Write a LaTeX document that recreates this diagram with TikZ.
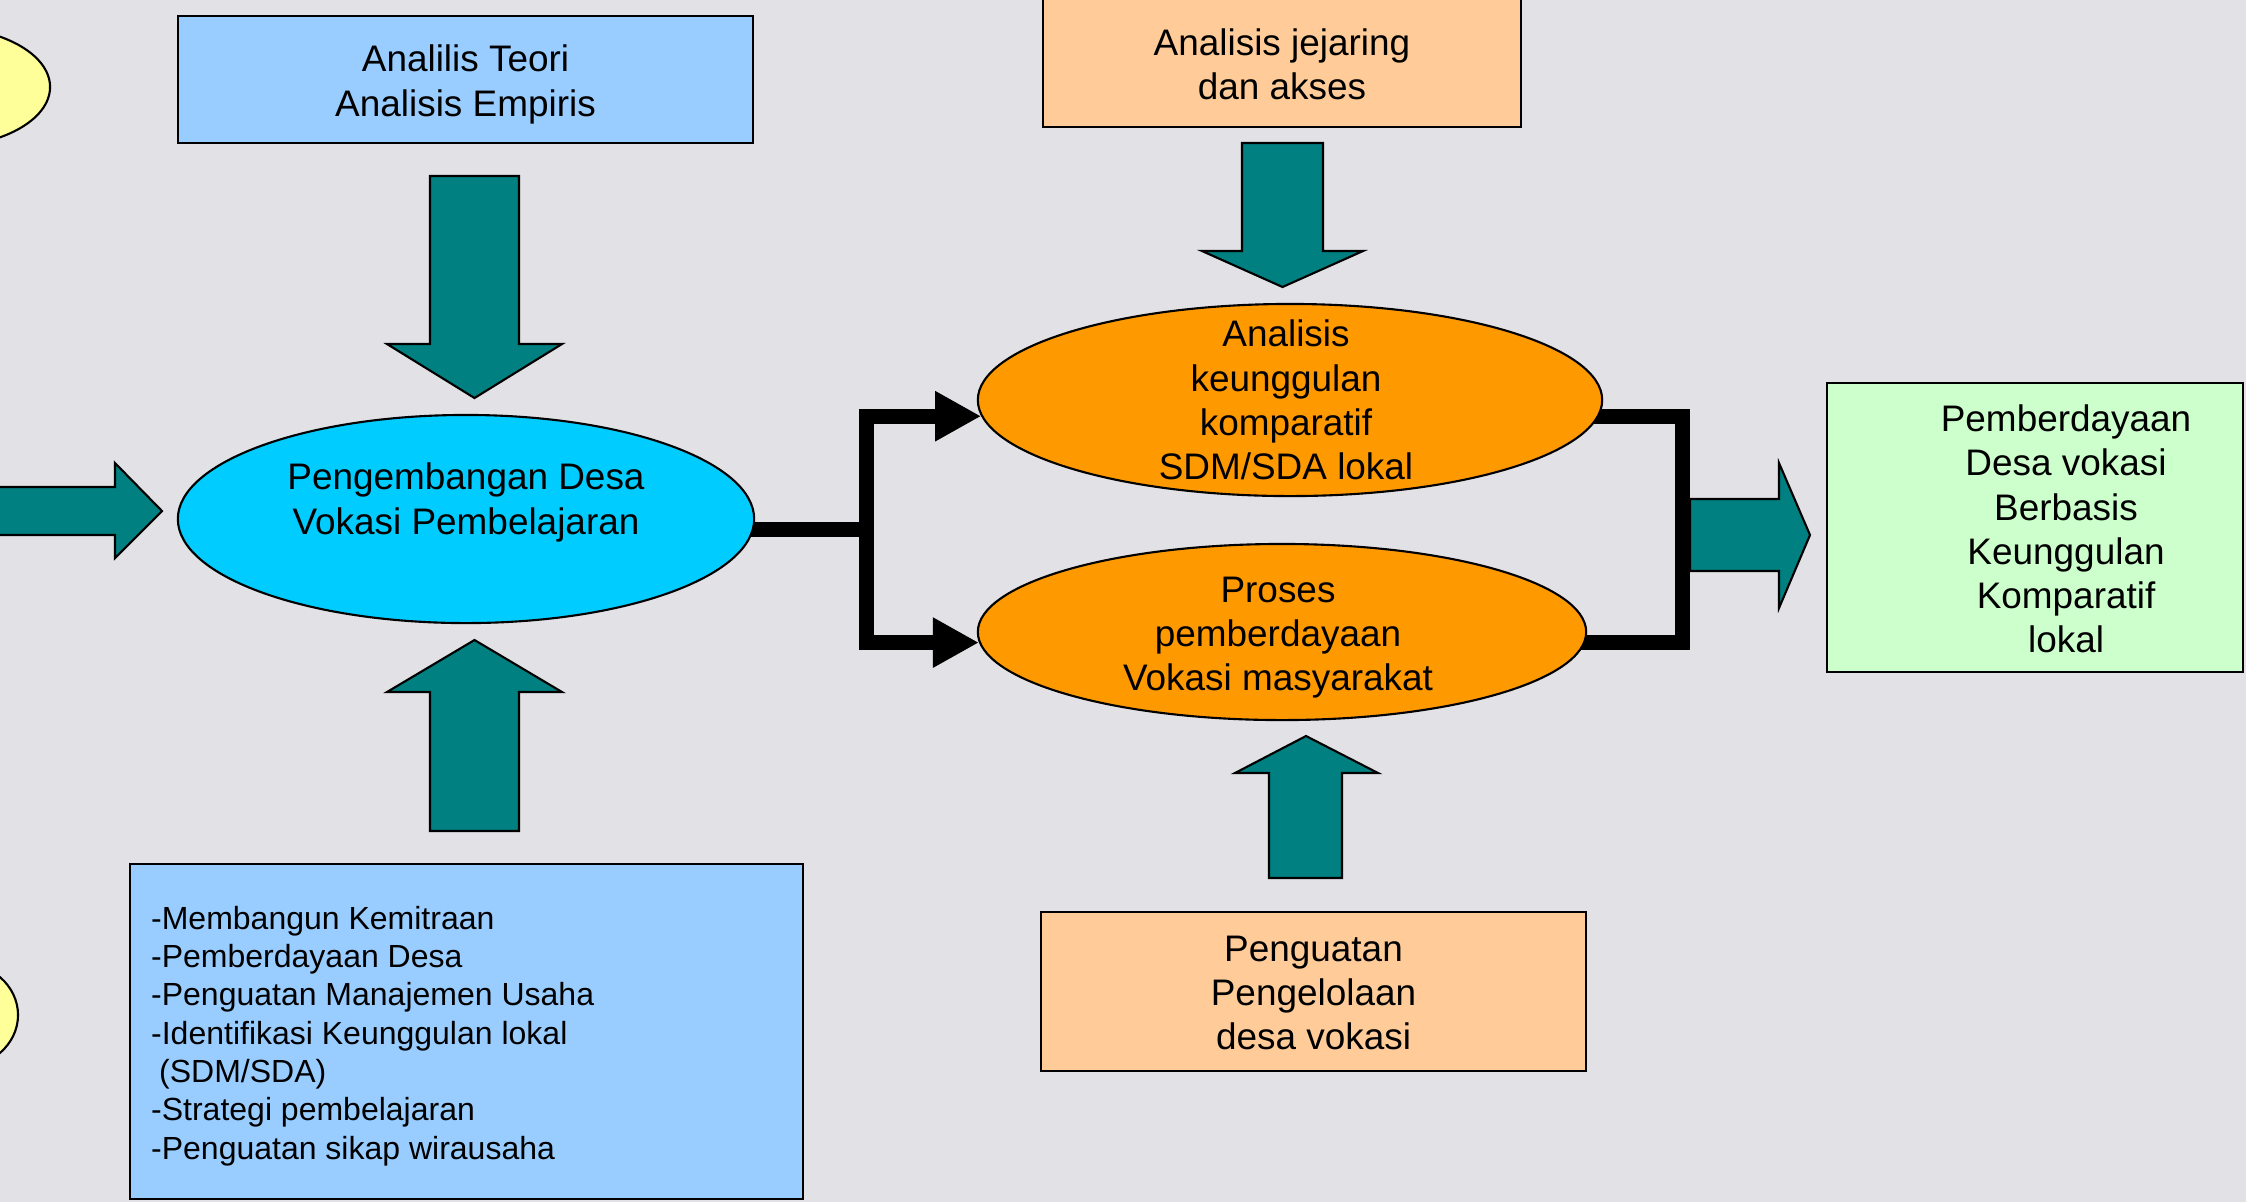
\documentclass[tikz,border=0pt]{standalone}
\usepackage{fontspec}
\setmainfont{Liberation Sans}
\usepackage{tikz}
\usetikzlibrary{shapes.geometric}
\usetikzlibrary{arrows.meta}
\usetikzlibrary{backgrounds}
\definecolor{marble}{RGB}{226,226,230}
\definecolor{arrowteal}{RGB}{0,128,128}
\definecolor{boxblue}{RGB}{153,204,255}
\definecolor{ovalcyan}{RGB}{0,204,255}
\definecolor{boxpeach}{RGB}{255,204,153}
\definecolor{ovalorange}{RGB}{255,153,0}
\definecolor{boxgreen}{RGB}{204,255,204}
\definecolor{ovalyellow}{RGB}{255,255,153}
\tikzset{
    common/.style={draw=black, line width=0.6pt, inner sep=0pt},
    box/.style={common, rectangle},
    oval/.style={common, ellipse},
    txt/.style={align=center, font=\fontsize{10.5}{12.6}\selectfont},
    listtxt/.style={align=left, font=\fontsize{9.1}{10.9}\selectfont},
    fatarrow/.style={draw=black, line width=0.6pt, fill=arrowteal, line join=miter},
    bracket/.style={line width=0.15cm, line join=miter},
    splitarrow/.style={bracket, -{Triangle[length=0.46cm, width=0.47cm]}}
}

\begin{document}
\begin{tikzpicture}[x=0.01cm, y=-0.01cm]
      \clip (0,0) rectangle (2246,1202);

      % ovals cut by the left edge
      \node[oval, fill=ovalyellow, minimum width=2.2cm, minimum height=1.2cm] (side-top) at (-60,87) {};
      \node[oval, fill=ovalyellow, minimum width=1.2cm, minimum height=1.06cm] (side-bottom) at (-42,1015) {};

      % boxes
      \node[box, fill=boxblue, minimum width=5.75cm, minimum height=1.27cm,
            label={[txt, yshift=-0.05cm]center:{Analilis Teori\\Analisis Empiris}}] (teori) at (465.5,79.5) {};
      \node[box, fill=boxpeach, minimum width=4.78cm, minimum height=1.28cm,
            label={[txt, yshift=-0.015cm]center:{Analisis jejaring\\dan akses}}] (jejaring) at (1282,63) {};
      \node[box, fill=boxpeach, minimum width=5.45cm, minimum height=1.59cm,
            label={[txt, yshift=-0.015cm]center:{Penguatan\\Pengelolaan\\desa vokasi}}] (kelola) at (1313.5,991.5) {};
      \node[box, fill=boxgreen, minimum width=4.16cm, minimum height=2.89cm,
            label={[txt, xshift=0.31cm, yshift=-0.015cm]center:{Pemberdayaan\\Desa vokasi\\Berbasis\\Keunggulan\\Komparatif\\lokal}}] (hasil) at (2035,527.5) {};
      \node[box, fill=boxblue, minimum width=6.73cm, minimum height=3.35cm] (kegiatan) at (466.5,1031.5) {};
      \node[listtxt, anchor=west] (kegiatan-txt) at ([xshift=0.1cm, yshift=-0.045cm]kegiatan.west)
            {-Membangun Kemitraan\\-Pemberdayaan Desa\\-Penguatan Manajemen Usaha\\-Identifikasi Keunggulan lokal\\\hspace*{0.25em}(SDM/SDA)\\-Strategi pembelajaran\\-Penguatan sikap wirausaha};

      % ovals
      \node[oval, fill=ovalcyan, minimum width=5.76cm, minimum height=2.08cm,
            label={[txt, yshift=0.165cm]center:{Pengembangan Desa\\Vokasi Pembelajaran}}] (desa) at (466,519) {};
      \node[oval, fill=ovalorange, minimum width=6.24cm, minimum height=1.92cm,
            label={[txt, xshift=-0.04cm]center:{Analisis\\keunggulan\\komparatif\\SDM/SDA lokal}}] (keunggulan) at (1290,400) {};
      \node[oval, fill=ovalorange, minimum width=6.08cm, minimum height=1.76cm,
            label={[txt, xshift=-0.04cm, yshift=-0.055cm]center:{Proses\\pemberdayaan\\Vokasi masyarakat}}] (proses) at (1282,632) {};

      \begin{pgfonlayer}{background}
        \fill[marble] (0,0) rectangle (2246,1202);
        \draw[splitarrow] ([xshift=-0.05cm]desa.358) -- ++(118,0) coordinate (split) |- (keunggulan.183);
        \draw[splitarrow] (split) |- (proses.182);
        \draw[bracket] ([xshift=-0.05cm]keunggulan.357) -- ++(89,0) |- ([xshift=-0.05cm]proses.358);
      \end{pgfonlayer}

      % fat arrows
      \draw[fatarrow] (-10,487) -- (115,487) -- (115,463) -- (162,511) -- (115,558) -- (115,535) -- (-10,535) -- cycle;
      \draw[fatarrow] (430,176) -- (519,176) -- (519,344) -- (562,344) -- (474.5,398) -- (387,344) -- (430,344) -- cycle;
      \draw[fatarrow] (430,831) -- (519,831) -- (519,692) -- (562,692) -- (474.5,640) -- (387,692) -- (430,692) -- cycle;
      \draw[fatarrow] (1242,143) -- (1323,143) -- (1323,251) -- (1363,251) -- (1282.5,287) -- (1202,251) -- (1242,251) -- cycle;
      \draw[fatarrow] (1269,878) -- (1342,878) -- (1342,773) -- (1378,773) -- (1306,736) -- (1235,773) -- (1269,773) -- cycle;
      \draw[fatarrow] (1690,499) -- (1779,499) -- (1779,463) -- (1810,535) -- (1779,608) -- (1779,571) -- (1690,571) -- cycle;
\end{tikzpicture}
\end{document}
